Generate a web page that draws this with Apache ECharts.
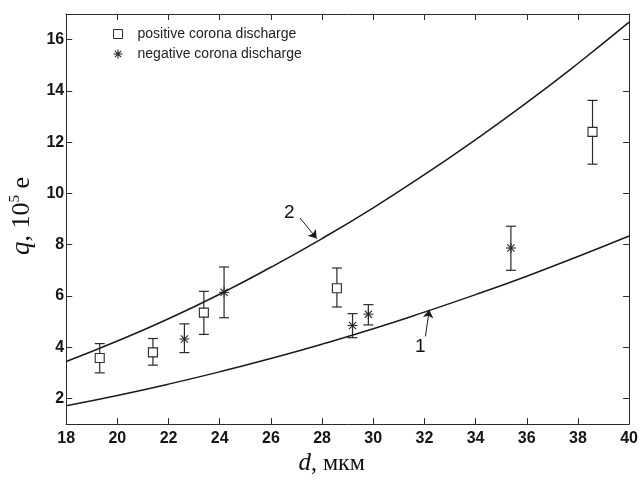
<!DOCTYPE html>
<html>
<head>
<meta charset="utf-8">
<script src="https://cdn.jsdelivr.net/npm/echarts@6/dist/echarts.min.js"></script>
<style>
  html, body { margin: 0; padding: 0; background: #fff; }
  #chart { width: 641px; height: 481px; }
</style>
</head>
<body>
<div id="chart"></div>
<script>
// Particle size d (µm) and charge q (10^5 e) with error bars
const posD  = [19.31, 21.39, 23.38, 28.58, 38.57];
const posQ  = [3.58, 3.80, 5.35, 6.30, 12.40];
const posLo = [3.00, 3.30, 4.50, 5.57, 11.14];
const posHi = [4.14, 4.34, 6.18, 7.09, 13.63];

const negD  = [22.62, 24.17, 29.19, 29.81, 35.38];
const negQ  = [4.32, 6.14, 4.85, 5.29, 7.87];
const negLo = [3.79, 5.15, 4.37, 4.87, 7.00];
const negHi = [4.91, 7.13, 5.31, 5.66, 8.72];

// Model curves 1 and 2
const curveD  = [18, 20, 22, 24, 26, 28, 30, 32, 34, 36, 38, 40];
const curve1Q = [1.72, 2.12, 2.56, 3.04, 3.56, 4.12, 4.72, 5.37, 6.05, 6.77, 7.54, 8.34];
const curve2Q = [3.44, 4.24, 5.11, 6.07, 7.12, 8.24, 9.44, 10.73, 12.10, 13.54, 15.07, 16.68];

// Axis ticks
const xTicks = [18, 20, 22, 24, 26, 28, 30, 32, 34, 36, 38, 40];
const yTicks = [2, 4, 6, 8, 10, 12, 14, 16];

// Curve labels and their arrows (data coordinates)
const label1At = [31.84, 4.02];
const arrow1From = [32.04, 4.42];
const arrow1To = [32.19, 5.46];
const label2At = [26.72, 9.24];
const arrow2From = [27.14, 9.04];
const arrow2To = [27.79, 8.24];

const INK = '#2a2a2a';
const SANS = '"Liberation Sans", Arial, sans-serif';
const SERIF = '"Liberation Serif", "Times New Roman", serif';

function rows(d, q, lo, hi) {
  return d.map((v, i) => [v, q[i], lo[i], hi[i]]);
}

function errorRenderer(kind) {
  return function (params, api) {
    const x = api.value(0);
    const c = api.coord([x, api.value(1)]);
    const lo = api.coord([x, api.value(2)]);
    const hi = api.coord([x, api.value(3)]);
    const cap = 5;
    const st = { stroke: INK, lineWidth: 1.2, fill: null };
    const kids = [
      { type: 'line', shape: { x1: c[0], y1: hi[1], x2: c[0], y2: lo[1] }, style: st },
      { type: 'line', shape: { x1: c[0] - cap, y1: hi[1], x2: c[0] + cap, y2: hi[1] }, style: st },
      { type: 'line', shape: { x1: c[0] - cap, y1: lo[1], x2: c[0] + cap, y2: lo[1] }, style: st }
    ];
    if (kind === 'square') {
      const s = 4.5;
      kids.push({ type: 'rect', shape: { x: c[0] - s, y: c[1] - s, width: 2 * s, height: 2 * s },
        style: { stroke: INK, lineWidth: 1.1, fill: '#fff' } });
    } else {
      const r = 5, rd = 3.6;
      const ss = { stroke: INK, lineWidth: 1.1 };
      kids.push({ type: 'line', shape: { x1: c[0], y1: c[1] - r, x2: c[0], y2: c[1] + r }, style: ss });
      kids.push({ type: 'line', shape: { x1: c[0] - r, y1: c[1], x2: c[0] + r, y2: c[1] }, style: ss });
      kids.push({ type: 'line', shape: { x1: c[0] - rd, y1: c[1] - rd, x2: c[0] + rd, y2: c[1] + rd }, style: ss });
      kids.push({ type: 'line', shape: { x1: c[0] - rd, y1: c[1] + rd, x2: c[0] + rd, y2: c[1] - rd }, style: ss });
    }
    return { type: 'group', children: kids };
  };
}

const tickStyle = { inside: true, length: 6, lineStyle: { color: INK, width: 1 } };
const lineStyleAxis = { show: true, onZero: false, lineStyle: { color: INK, width: 1 } };
const tickFont = { fontFamily: SANS, fontSize: 16, fontWeight: 'bold', color: '#151515' };

const chart = echarts.init(document.getElementById('chart'), null, { renderer: 'canvas' });

chart.setOption({
  animation: false,
  backgroundColor: '#fff',
  grid: { left: 65, right: 10, top: 14, bottom: 46, containLabel: false },
  legend: {
    left: 108, top: 22, orient: 'vertical', itemWidth: 9, itemHeight: 9, itemGap: 6,
    textStyle: { fontFamily: SANS, fontSize: 14, color: '#222', lineHeight: 14, padding: [0, 0, 0, 10] },
    data: [
      { name: 'positive corona discharge', icon: 'rect',
        itemStyle: { color: '#fff', borderColor: INK, borderWidth: 1 } },
      { name: 'negative corona discharge',
        icon: 'path://M5,0L5,10M0,5L10,5M1.5,1.5L8.5,8.5M8.5,1.5L1.5,8.5',
        itemStyle: { color: 'transparent', borderColor: INK, borderWidth: 1.1 } }
    ]
  },
  xAxis: [
    {
      type: 'value', min: 18, max: 40, interval: 2, position: 'bottom',
      axisLine: lineStyleAxis, axisTick: tickStyle, splitLine: { show: false },
      axisLabel: Object.assign({ margin: 6, customValues: xTicks }, tickFont),
      name: '{i|d}{n|, мкм}', nameLocation: 'middle', nameGap: 23,
      nameTextStyle: {
        padding: [0, 32, 0, 0],
        rich: {
          i: { fontFamily: SERIF, fontStyle: 'italic', fontSize: 25, color: '#111' },
          n: { fontFamily: SERIF, fontSize: 24, color: '#111' }
        }
      }
    },
    {
      type: 'value', min: 18, max: 40, interval: 2, position: 'top',
      axisLine: lineStyleAxis, axisTick: tickStyle, axisLabel: { show: false },
      splitLine: { show: false }
    }
  ],
  yAxis: [
    {
      type: 'value', min: 1, max: 17, position: 'left',
      axisLine: lineStyleAxis,
      axisTick: Object.assign({ customValues: yTicks }, tickStyle),
      splitLine: { show: false },
      axisLabel: Object.assign({ margin: 2, customValues: yTicks }, tickFont),
      name: '{i|q}{n|, 10}{s|5}{n| e}', nameLocation: 'middle', nameGap: 15, nameRotate: 90,
      nameTextStyle: {
        padding: [0, 0, 0, 6],
        rich: {
          i: { fontFamily: SERIF, fontStyle: 'italic', fontSize: 27, color: '#111', lineHeight: 28 },
          n: { fontFamily: SERIF, fontSize: 26, color: '#111', lineHeight: 28 },
          s: { fontFamily: SERIF, fontSize: 15, color: '#111', lineHeight: 16, verticalAlign: 'top' }
        }
      }
    },
    {
      type: 'value', min: 1, max: 17, position: 'right',
      axisLine: lineStyleAxis,
      axisTick: Object.assign({ customValues: yTicks }, tickStyle),
      axisLabel: { show: false }, splitLine: { show: false }
    }
  ],
  series: [
    {
      name: 'curve 1', type: 'line', smooth: true, showSymbol: false, silent: true,
      data: curveD.map((d, i) => [d, curve1Q[i]]),
      lineStyle: { color: '#1a1a1a', width: 1.5 },
      markLine: {
        silent: true, symbol: ['none', 'arrow'], symbolSize: 8, animation: false,
        label: { show: false }, lineStyle: { color: '#1a1a1a', width: 1, type: 'solid' },
        data: [[{ coord: arrow1From }, { coord: arrow1To }]]
      },
      markPoint: {
        silent: true, symbol: 'circle', symbolSize: 0, animation: false,
        label: { show: true, position: 'inside', fontFamily: SANS, fontSize: 19, color: '#111', formatter: '1' },
        data: [{ coord: label1At }]
      }
    },
    {
      name: 'curve 2', type: 'line', smooth: true, showSymbol: false, silent: true,
      data: curveD.map((d, i) => [d, curve2Q[i]]),
      lineStyle: { color: '#1a1a1a', width: 1.5 },
      markLine: {
        silent: true, symbol: ['none', 'arrow'], symbolSize: 8, animation: false,
        label: { show: false }, lineStyle: { color: '#1a1a1a', width: 1, type: 'solid' },
        data: [[{ coord: arrow2From }, { coord: arrow2To }]]
      },
      markPoint: {
        silent: true, symbol: 'circle', symbolSize: 0, animation: false,
        label: { show: true, position: 'inside', fontFamily: SANS, fontSize: 19, color: '#111', formatter: '2' },
        data: [{ coord: label2At }]
      }
    },
    {
      name: 'positive corona discharge', type: 'custom',
      renderItem: errorRenderer('square'),
      itemStyle: { color: INK },
      encode: { x: 0, y: [1, 2, 3] },
      data: rows(posD, posQ, posLo, posHi)
    },
    {
      name: 'negative corona discharge', type: 'custom',
      renderItem: errorRenderer('star'),
      itemStyle: { color: INK },
      encode: { x: 0, y: [1, 2, 3] },
      data: rows(negD, negQ, negLo, negHi)
    }
  ]
});
</script>
</body>
</html>
